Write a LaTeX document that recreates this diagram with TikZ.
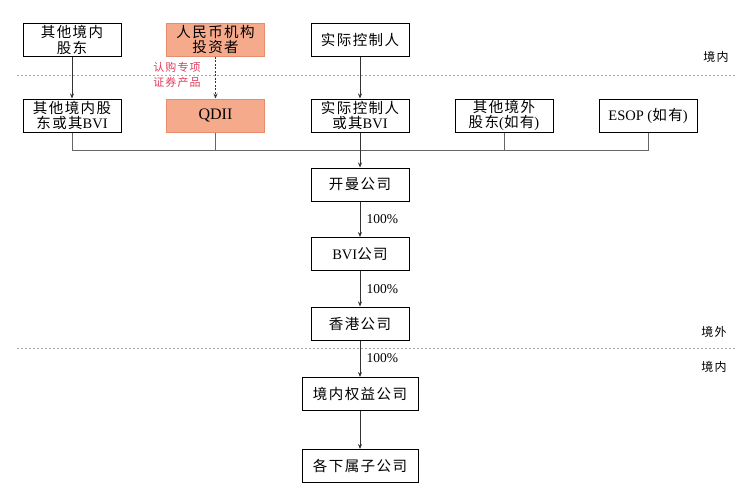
\documentclass[tikz,border=0pt]{standalone}
\usepackage{fontspec}
\setmainfont{Liberation Serif}
\newfontfamily\cjk[LetterSpace=10]{Noto Sans CJK SC}
\usetikzlibrary{arrows.meta}
\definecolor{salmon}{RGB}{245,170,140}
\definecolor{salmonline}{RGB}{232,140,110}
\definecolor{redtext}{RGB}{225,60,90}
\begin{document}
\begin{tikzpicture}[x=1pt, y=-1pt,
   box/.style={draw, line width=1pt, minimum width=98pt, minimum height=33pt,
               inner sep=0.5pt, align=center, font=\fontsize{14.5}{15.5}\selectfont},
   rmbbox/.style={box, fill=salmon, draw=salmonline},
   wide/.style={box, minimum width=116pt},
   line/.style={draw=black!60, line width=0.7pt},
   arr/.style={draw=black!80, line width=0.7pt, -{Stealth[length=5pt, width=4pt]}},
   sep/.style={draw=black!35, dashed, dash pattern=on 2pt off 2pt, line width=0.5pt},
   pct/.style={font=\fontsize{13.5}{15}\selectfont, right=3pt}]
   \useasboundingbox (0,0) rectangle (756,501);
   % top row
   \node [box] (oth) at (72,40) {{\cjk 其他境内}\\{\cjk 股东}};
   \node [rmbbox] (rmb) at (215.5,39.5) {{\cjk 人民币机构}\\{\cjk 投资者}};
   \node [box] (act) at (360,40) {\cjk 实际控制人};
   \draw [sep] (17,75) -- (737,75);
   \node at (716,57) {\fontsize{12}{14}\selectfont\cjk 境内};
   \node [text=redtext, align=center, font=\fontsize{11}{15}\selectfont] (sub) at (177,74.5)
      {{\cjk 认购专项}\\{\cjk 证券产品}};

   % offshore holders
   \node [box] (othbvi) at (72,115.5) {{\cjk 其他境内股}\\{\cjk 东或其}BVI};
   \node [rmbbox, font=\fontsize{16}{18}\selectfont] (qdii) at (215.5,115.5) {QDII};
   \node [box] (actbvi) at (360,115.5) {{\cjk 实际控制人}\\{\cjk 或其}BVI};
   \node [box] (oversea) at (504,115.5) {{\cjk 其他境外}\\{\cjk 股东}({\cjk 如有})};
   \node [box] (esop) at (648,115.5) {ESOP ({\cjk 如有})};
   \draw [arr] (oth) -- (othbvi);
   \draw [arr, dashed, dash pattern=on 2pt off 1.5pt] (rmb) -- (qdii);
   \draw [arr] (act) -- (actbvi);

   % bus
   \coordinate (bus) at (360,150);
   \draw [line] (othbvi.south) |- (bus);
   \draw [line] (esop.south) |- (bus);
   \draw [line] (qdii.south) -- (qdii.south |- bus);
   \draw [line] (oversea.south) -- (oversea.south |- bus);

   % chain
   \node [box] (cayman) at (360,184.5) {\cjk 开曼公司};
   \node [box] (bvi) at (360,254) {BVI{\cjk 公司}};
   \node [box] (hk) at (360,323.5) {\cjk 香港公司};
   \node [wide] (wfoe) at (360,394) {\cjk 境内权益公司};
   \node [wide] (subs) at (360,466) {\cjk 各下属子公司};
   \draw [arr] (actbvi) -- (cayman);
   \draw [arr] (cayman) -- node [pct] {100\%} (bvi);
   \draw [arr] (bvi) -- node [pct] {100\%} (hk);
   \draw [arr] (hk) -- node [pct, yshift=1pt] {100\%} (wfoe);
   \draw [arr] (wfoe) -- (subs);

   \draw [sep] (17,348) -- (737,348);
   \node at (714,332) {\fontsize{12}{14}\selectfont\cjk 境外};
   \node at (714,367) {\fontsize{12}{14}\selectfont\cjk 境内};
\end{tikzpicture}
\end{document}
